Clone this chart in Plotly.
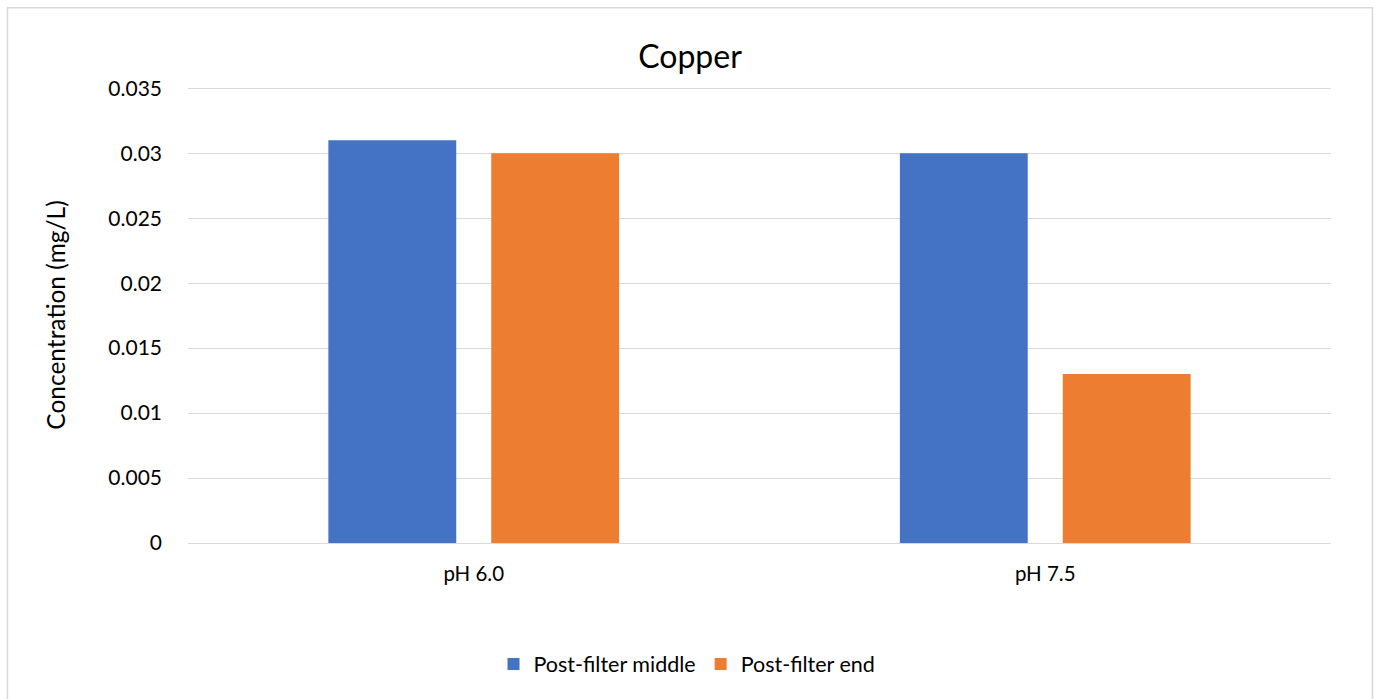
import plotly.graph_objects as go

categories = ["pH 6.0", "pH 7.5"]
series_names = ["Post-filter middle", "Post-filter end"]
middle_values = [0.031, 0.030]
end_values = [0.030, 0.013]
colors = ["#4472C4", "#ED7D31"]

W, H = 1379, 699
Y_TOP = 0.0351
L, R, B = 188, 48, 156
T = 88 - 455 * (Y_TOP - 0.035) / 0.035
pw = W - L - R
ph = H - T - B

def px_x(p):
    return (p - L) / pw

def px_y(p):
    return (H - B - p) / ph

font_family = "Lato, 'Open Sans', sans-serif"

fig = go.Figure()
for name, vals, col in zip(series_names, [middle_values, end_values], colors):
    fig.add_trace(go.Bar(x=categories, y=vals, name=name, marker_color=col,
                         marker_line_width=0))

fig.update_layout(
    width=W, height=H,
    margin=dict(l=L, r=R, t=T, b=B),
    paper_bgcolor="white", plot_bgcolor="white",
    barmode="group", bargap=0.43, bargroupgap=0.215,
    font=dict(family=font_family, color="#000000", size=21),
    title=dict(text="Copper", x=px_x(690), xref="paper", xanchor="center",
               y=1 - 57 / H, yanchor="middle",
               font=dict(size=32, family=font_family, color="#000")),
    legend=dict(orientation="h", x=px_x(687), xanchor="center",
                y=px_y(664), yanchor="middle", font=dict(size=21.5),
                itemwidth=30, traceorder="normal"),
    xaxis=dict(showgrid=False, showline=True, linecolor="#d9d9d9", linewidth=1,
               ticks="", tickfont=dict(size=20.5), ticklabelstandoff=12),
    yaxis=dict(range=[0, Y_TOP], tickvals=[0, 0.005, 0.01, 0.015, 0.02, 0.025, 0.03, 0.035],
               ticktext=["0", "0.005", "0.01", "0.015", "0.02", "0.025", "0.03", "0.035"],
               showgrid=True, gridcolor="#d9d9d9",
               gridwidth=1, zeroline=False, showline=False, ticks="",
               tickfont=dict(size=21), ticklabelstandoff=25,
               title=dict(text="Concentration (mg/L)", font=dict(size=24.5),
                          standoff=35)),
    shapes=[dict(type="rect", xref="paper", yref="paper",
                 x0=px_x(7.5), x1=px_x(1372.5), y0=px_y(7.5), y1=px_y(720),
                 line=dict(color="#d9d9d9", width=1.5), layer="below")],
)

fig.write_html("out.html", config={"displayModeBar": False},
               post_script="document.body.style.margin='0px';")
